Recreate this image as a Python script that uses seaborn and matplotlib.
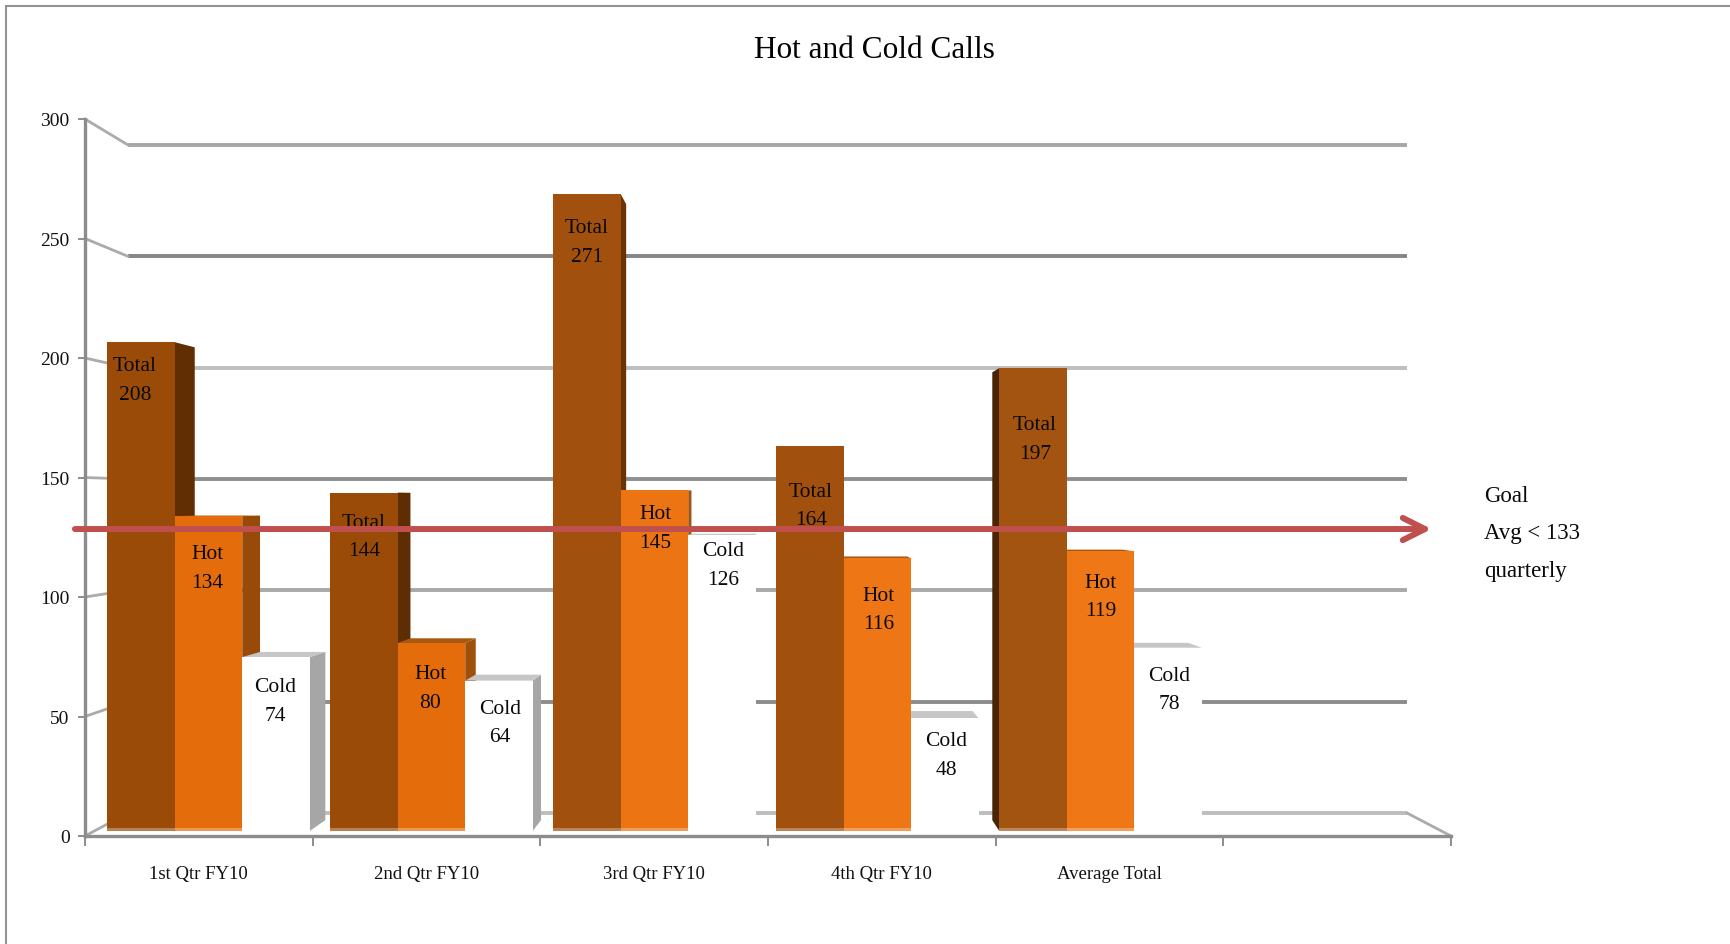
import matplotlib
matplotlib.use("Agg")
import matplotlib.pyplot as plt
from matplotlib.lines import Line2D
from matplotlib.patches import Polygon, Rectangle
from matplotlib.transforms import IdentityTransform
import numpy as np
import pandas as pd
import seaborn as sns

# ---- data ----
QUARTERS = ["1st Qtr FY10", "2nd Qtr FY10", "3rd Qtr FY10", "4th Qtr FY10", "Average Total"]
SERIES = ["Total", "Hot", "Cold"]
TOTAL_CALLS = [208, 144, 271, 164, 197]
HOT_CALLS = [134, 80, 145, 116, 119]
COLD_CALLS = [74, 64, 126, 48, 78]
Y_TICKS = [0, 50, 100, 150, 200, 250, 300]
GOAL_LINES = ["Goal", "Avg < 133", "quarterly"]
GOAL_ARROW_LEVEL = 128.5

# ---- label placement (pixels from the top centre of each bar) ----
LABEL_DX = {"Total": [-6, 0, 0, 1, 2], "Hot": [-1, -1, 1, 1, 0], "Cold": [-1, 1, 1, 1, 1]}
LABEL_DROP = {"Total": [38, 44, 48, 60, 71], "Hot": [52, 45, 38, 51, 45], "Cold": [44, 42, 30, 37, 42]}

# ---- styling ----
W, H = 1731, 945
FONT = "Liberation Serif"
FRONT = {"Total": ["#9A4B08", "#9A4B08", "#A1500E", "#A1500E", "#A35411"],
         "Hot": ["#E46C0A", "#E46C0A", "#EC7413", "#EE7615", "#EF7716"],
         "Cold": ["#FFFFFF"] * 5}
SIDE = {"Total": ["#612D02", "#5F2D03", "#6A3306", "#6A3306", "#4A2505"],
        "Hot": ["#984B08", "#A0500A", "#A5530C", "#A5530C", "#A5530C"],
        "Cold": ["#A6A6A6"] * 5}
TOP = {"Total": "#7E4210", "Hot": "#A8580F", "Cold": "#C6C6C6"}
GRID_COLORS = {0: "#BDBDBD", 50: "#8C8C8C", 100: "#A8A8A8", 150: "#8F8F8F",
               200: "#BEBEBE", 250: "#868686", 300: "#A6A6A6"}
AXIS_GRAY = "#8C8C8C"
WALL_EDGE = "#ABABAB"
VANISH = np.array([786.0, H - 500.0])  # display coordinates, y up
DEPTH = 0.0327
MIN_SIDE_PX = 2.0  # side faces narrower than this are left out

sns.set_theme(style="white")
plt.rcParams["font.family"] = [FONT, "DejaVu Serif"]


def axes_from_pixels(fig, left, right, top, bottom, **kw):
    """Add axes whose edges are given in image pixels, measured from the top left."""
    return fig.add_axes([left / W, 1 - bottom / H, (right - left) / W, (bottom - top) / H], **kw)


fig = plt.figure(figsize=(W / 100, H / 100), dpi=100, facecolor="white")

# back wall: gridlines
ax_back = axes_from_pixels(fig, 128, 1407, 146, 814, zorder=1)
ax_back.set_xlim(0, 1)
ax_back.set_ylim(0, 300)
ax_back.axis("off")
for tick in Y_TICKS:
    ax_back.hlines(tick, 0, 1, color=GRID_COLORS[tick], lw=2.8, clip_on=False)

# front plane: the value and category axes
ax_front = axes_from_pixels(fig, 85, 1451, 120, 837, zorder=2)
ax_front.patch.set_visible(False)
ax_front.set_xlim(0, 6)
ax_front.set_ylim(0, 300)
for side in ("top", "right"):
    ax_front.spines[side].set_visible(False)
for side in ("left", "bottom"):
    ax_front.spines[side].set_color(AXIS_GRAY)
    ax_front.spines[side].set_linewidth(2.4)
ax_front.set_yticks(Y_TICKS)
ax_front.set_yticklabels([str(t) for t in Y_TICKS], fontsize=14, color="#111111")
ax_front.tick_params(axis="y", length=5, width=1.4, color=AXIS_GRAY, pad=6, left=True)
ax_front.set_xticks(range(7))
ax_front.set_xticklabels([""] * 7)
ax_front.tick_params(axis="x", which="major", length=7, width=1.4, color=AXIS_GRAY, bottom=True)
ax_front.set_xticks(np.arange(len(QUARTERS)) + 0.5, minor=True)
ax_front.set_xticklabels(QUARTERS, minor=True, fontsize=13.5, color="#111111")
ax_front.tick_params(axis="x", which="minor", length=0, pad=21)

# side-wall edges joining the front ticks to the back wall
fig.canvas.draw()
for tick in Y_TICKS:
    a = ax_front.transData.transform((0, tick))
    b = ax_back.transData.transform((0, tick))
    ax_back.add_line(Line2D([a[0], b[0]], [a[1], b[1]], transform=IdentityTransform(),
                            color=WALL_EDGE, lw=2.0, clip_on=False))
a = ax_front.transData.transform((6, 0))
b = ax_back.transData.transform((1, 0))
ax_back.add_line(Line2D([a[0], b[0]], [a[1], b[1]], transform=IdentityTransform(),
                        color=WALL_EDGE, lw=2.0, clip_on=False))

# the bars
ax_bars = axes_from_pixels(fig, 97, 1435, 127, 832, zorder=3)
ax_bars.patch.set_visible(False)
calls = pd.DataFrame({
    "quarter": QUARTERS * 3,
    "series": np.repeat(SERIES, len(QUARTERS)),
    "calls": TOTAL_CALLS + HOT_CALLS + COLD_CALLS,
})
sns.barplot(data=calls, x="quarter", y="calls", hue="series", order=QUARTERS, hue_order=SERIES,
            palette=["#9A4B08", "#E46C0A", "#FFFFFF"], width=0.908, gap=0, saturation=1,
            legend=False, ax=ax_bars)
ax_bars.set_xlim(-0.5, 5.5)
ax_bars.set_ylim(0, 300)
ax_bars.axis("off")
fig.canvas.draw()


def receded(point):
    """Project a display-space point on to the rear face of the bar solid."""
    point = np.asarray(point, float)
    return point + DEPTH * (VANISH - point)


def solid(corners, color, z):
    ax_bars.add_patch(Polygon(corners, closed=True, transform=IdentityTransform(), facecolor=color,
                              edgecolor="none", zorder=z, clip_on=False))


for q in range(len(QUARTERS)):
    for s, name in enumerate(SERIES):
        bar = ax_bars.containers[s][q]
        z = 1 + 0.1 * s
        x0, y0 = ax_bars.transData.transform((bar.get_x(), 0))
        x1, y1 = ax_bars.transData.transform((bar.get_x() + bar.get_width(), bar.get_height()))
        # receding faces
        if receded((x1, y0))[0] > x1 + MIN_SIDE_PX:
            solid([(x1, y0), receded((x1, y0)), receded((x1, y1)), (x1, y1)], SIDE[name][q], z)
        if receded((x0, y0))[0] < x0 - MIN_SIDE_PX:
            solid([(x0, y0), receded((x0, y0)), receded((x0, y1)), (x0, y1)], SIDE[name][q], z)
        if receded((x0, y1))[1] > y1:
            solid([(x0, y1), receded((x0, y1)), receded((x1, y1)), (x1, y1)], TOP[name], z + 0.05)
        # front face
        bar.set_facecolor(FRONT[name][q])
        bar.set_edgecolor("none")
        bar.set_linewidth(0)
        bar.set_zorder(3)
        # pale strip along the foot of the bar
        if name != "Cold":
            ax_bars.add_patch(Rectangle((x0, y0), x1 - x0, 3, transform=IdentityTransform(),
                                        facecolor="white", alpha=0.3, edgecolor="none", zorder=3.1))
        # value label
        label = f"{name}\n{int(bar.get_height())}"
        ax_bars.annotate(label, xy=(bar.get_x() + bar.get_width() / 2, bar.get_height()),
                         xytext=(LABEL_DX[name][q], -LABEL_DROP[name][q]),
                         textcoords="offset pixels", ha="center", va="center",
                         fontsize=15.5, linespacing=1.68, color="#0A0A0A", zorder=4)

# goal arrow, running across the bars
ax_bars.annotate("", xy=(0.9975, GOAL_ARROW_LEVEL), xytext=(-0.0165, GOAL_ARROW_LEVEL),
                 xycoords=ax_bars.get_yaxis_transform(), textcoords=ax_bars.get_yaxis_transform(),
                 annotation_clip=False, zorder=6,
                 arrowprops=dict(arrowstyle="->,head_length=1.6,head_width=0.8", mutation_scale=10,
                                 lw=4.3, color="#C0504D", shrinkA=0, shrinkB=0))

# title and goal note
fig.text(874 / W, 1 - 50 / H, "Hot and Cold Calls", ha="center", va="center",
         fontsize=22.5, color="#000000")
for line, y_px in zip(GOAL_LINES, (497, 534, 572)):
    fig.text(1484 / W, 1 - y_px / H, line, ha="left", va="center", fontsize=16.5, color="#0A0A0A")

# outer frame: top and left edges only
fig.add_artist(Line2D([6.5 / W, 1], [1 - 7 / H, 1 - 7 / H], color="#929292", lw=1.5))
fig.add_artist(Line2D([6.5 / W, 6.5 / W], [0, 1 - 7 / H], color="#929292", lw=1.5))

fig.savefig("out.png", dpi=100, facecolor="white")
